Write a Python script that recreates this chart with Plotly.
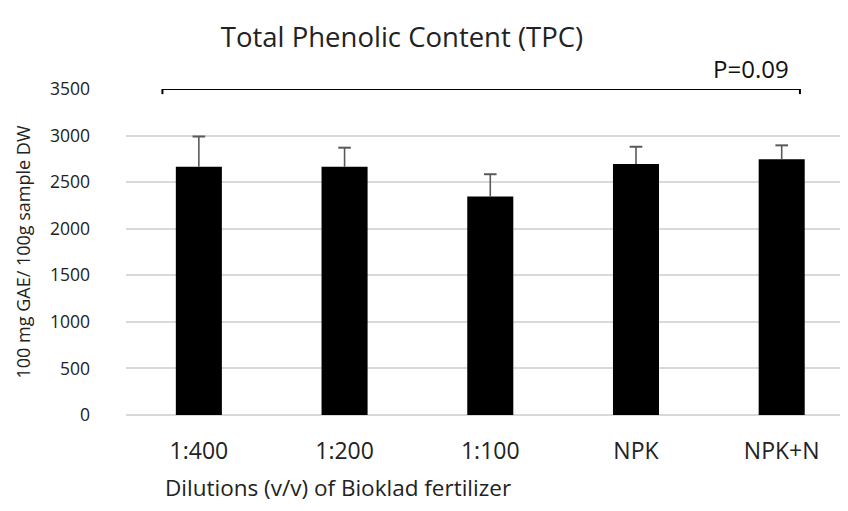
import plotly.graph_objects as go

categories = ["1:400", "1:200", "1:100", "NPK", "NPK+N"]
tpc_mean = [2665, 2665, 2345, 2695, 2745]
tpc_err = [325, 205, 240, 185, 150]
y_ticks = [0, 500, 1000, 1500, 2000, 2500, 3000, 3500]
bracket_start = -0.25
bracket_end = 4.125
bracket_level = 3500
p_label = "P=0.09"

FONT = "Open Sans"
idx = list(range(len(categories)))

# page body has an 8px margin; figure sized so the visible window matches
W, H = 840, 503
OFF = 8

fig = go.Figure()
fig.add_trace(go.Bar(
    x=idx, y=tpc_mean,
    marker=dict(color="black", line=dict(width=0)),
    width=0.316, hoverinfo="skip",
))
# plus-only error bars: stem drawn downward from the top, cap as a marker
err_top = [m + e for m, e in zip(tpc_mean, tpc_err)]
fig.add_trace(go.Scatter(
    x=idx, y=err_top, mode="markers",
    marker=dict(symbol="line-ew", size=9, color="#595959",
                line=dict(color="#595959", width=2)),
    error_y=dict(type="data", symmetric=False, array=[0] * len(tpc_err),
                 arrayminus=tpc_err, color="#595959", thickness=1.6, width=0),
    hoverinfo="skip",
))

# significance bracket
tick_len = 55
for x0, x1, y0, y1 in [
    (bracket_start, bracket_end, bracket_level, bracket_level),
    (bracket_start, bracket_start, bracket_level, bracket_level - tick_len),
    (bracket_end, bracket_end, bracket_level, bracket_level - tick_len),
]:
    fig.add_shape(type="line", x0=x0, x1=x1, y0=y0, y1=y1,
                  line=dict(color="black", width=2), layer="above")

fig.add_annotation(x=3.79, y=bracket_level, xref="x", yref="y",
                   text=p_label, showarrow=False, yanchor="bottom",
                   yshift=2, font=dict(family=FONT, size=24, color="#111"))

fig.add_annotation(x=(163 - 126) / 722, y=-(487 - 415) / 326,
                   xref="paper", yref="paper",
                   text="Dilutions (v/v) of Bioklad fertilizer",
                   showarrow=False, xanchor="left", yanchor="middle",
                   font=dict(family=FONT, size=22.5, color="#222"))

fig.update_layout(
    width=W, height=H,
    margin=dict(l=126 - OFF, r=0, t=89 - OFF, b=H - (415 - OFF), autoexpand=False),
    paper_bgcolor="white", plot_bgcolor="white",
    showlegend=False,
    title=dict(text="Total Phenolic Content (TPC)", x=(402 - OFF) / W, xanchor="center",
               xref="container", y=1 - (37 - OFF) / H, yref="container", yanchor="middle",
               font=dict(family=FONT, size=27.5, color="#222")),
    font=dict(family=FONT, color="#222"),
    xaxis=dict(range=[-0.5, 4.455], tickvals=idx, ticktext=categories,
               showgrid=False, zeroline=False, showline=False, automargin=False,
               tickfont=dict(family=FONT, size=23, color="#222"),
               ticks="", ticklabelstandoff=20, fixedrange=True),
    yaxis=dict(range=[0, 3500], tickvals=y_ticks, automargin=False,
               gridcolor="#d9d9d9", gridwidth=1.6,
               zeroline=True, zerolinecolor="#d9d9d9", zerolinewidth=1.6,
               showline=False, ticks="",
               tickfont=dict(family=FONT, size=17.5, color="#222"),
               ticklabelstandoff=35,
               title=dict(text="100 mg GAE/ 100g sample DW",
                          font=dict(family=FONT, size=18, color="#222"),
                          standoff=14)),
)

fig.write_html("out.html")
